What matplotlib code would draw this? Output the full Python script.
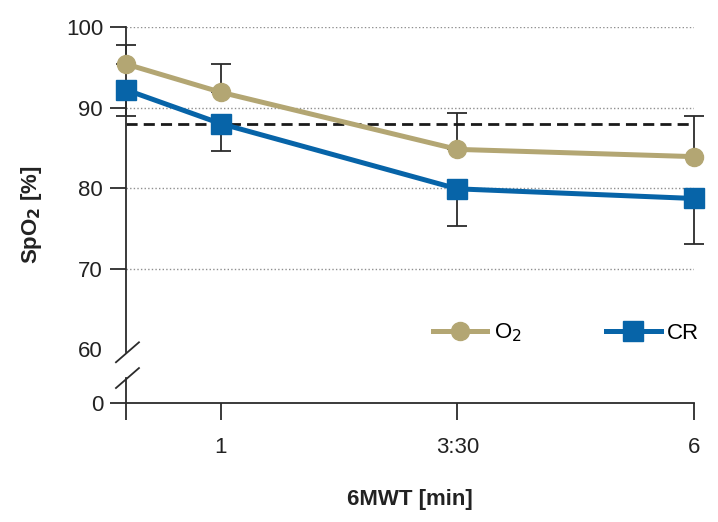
import matplotlib
matplotlib.use('Agg')
import matplotlib.pyplot as plt
from matplotlib.lines import Line2D

plt.rcParams['font.family'] = ['Liberation Sans Narrow', 'Liberation Sans', 'DejaVu Sans']
plt.rcParams['mathtext.fontset'] = 'custom'
plt.rcParams['mathtext.rm'] = 'Liberation Sans Narrow'
plt.rcParams['mathtext.it'] = 'Liberation Sans Narrow:italic'
plt.rcParams['mathtext.bf'] = 'Liberation Sans Narrow:bold'

# ---- data ----
time_min = [0, 1, 3.5, 6]
x_tick_pos = [0, 1, 3.5, 6]
x_tick_labels = ['', '1', '3:30', '6']
o2_values = [95.4, 91.9, 84.8, 83.9]
o2_err_up = [2.4, 3.5, 4.5, 5.1]
cr_values = [92.2, 88.0, 79.9, 78.7]
cr_err_down = [3.3, 3.4, 4.6, 5.7]
threshold = 88
y_tick_values = [0, 60, 70, 80, 90, 100]
y_tick_labels = ['0', '60', '70', '80', '90', '100']
grid_values = [70, 80, 90, 100]
series_labels = ['O$_2$', 'CR']

ZERO_POS = 53.3  # broken axis: where 0 sits


def ypos(v):
    return v if v >= 60 else ZERO_POS + v


TAN = '#b3a673'
BLUE = '#0764a8'
AX_COL = '#2b2b2b'
FS = 16

fig = plt.figure(figsize=(7.18, 5.22), dpi=100)
ax = fig.add_axes([126 / 718, (522 - 403) / 522, (694 - 126) / 718, (403 - 27) / 522])
ax.set_xlim(0, 6)
ax.set_ylim(ZERO_POS, 100)

for g in grid_values:
    ax.axhline(g, color='#8f8f8f', lw=1.0, ls=(0, (1, 1.6)), zorder=1)

ax.axhline(threshold, color='#1a1a1a', lw=2.0, ls=(0, (4, 2.2)), zorder=2.5)

eb1 = ax.errorbar(time_min, o2_values, yerr=[[0] * len(o2_err_up), o2_err_up], fmt='none',
                  ecolor=AX_COL, elinewidth=1.3, capsize=7.2, capthick=1.3, zorder=2)
eb2 = ax.errorbar(time_min, cr_values, yerr=[cr_err_down, [0] * len(cr_err_down)], fmt='none',
                  ecolor=AX_COL, elinewidth=1.3, capsize=7.2, capthick=1.3, zorder=2)
for eb in (eb1, eb2):
    for art in eb.get_children():
        art.set_clip_on(False)

ax.plot(time_min, o2_values, color=TAN, lw=3.6, marker='o', ms=13, zorder=4, clip_on=False)
ax.plot(time_min, cr_values, color=BLUE, lw=3.6, marker='s', ms=15, zorder=3, clip_on=False)

# spines
for s in ['top', 'right']:
    ax.spines[s].set_visible(False)
ax.spines['left'].set_bounds(59.6, 100)
ax.spines['left'].set_color(AX_COL)
ax.spines['bottom'].set_color(AX_COL)
ax.spines['left'].set_linewidth(1.3)
ax.spines['bottom'].set_linewidth(1.3)
ax.plot([0, 0], [ZERO_POS, 56.4], color=AX_COL, lw=1.3, clip_on=False, zorder=5)
# break marks
dx1, dx2, dy = -0.106, 0.137, 1.24
for yc in (59.6, 56.4):
    ax.plot([dx1, dx2], [yc - dy, yc + dy], color=AX_COL, lw=1.3, clip_on=False, zorder=5)

ax.set_yticks([ypos(v) for v in y_tick_values])
ax.set_yticklabels(y_tick_labels)
ax.set_xticks(x_tick_pos)
ax.set_xticklabels(x_tick_labels)
ax.tick_params(axis='y', direction='out', length=11.5, width=1.3, color=AX_COL,
               labelsize=FS, pad=5, labelcolor='#222222')
ax.tick_params(axis='x', direction='out', length=12.5, width=1.3, color=AX_COL,
               labelsize=FS, pad=12, labelcolor='#222222')
ax.yaxis.get_major_ticks()[1].tick1line.set_visible(False)

ax.set_xlabel('6MWT [min]', fontsize=16, fontweight='bold', labelpad=22, color='#222222')
ax.set_ylabel(r'SpO$_\mathbf{2}$ [%]', fontsize=16, fontweight='bold', labelpad=16, color='#222222')

handles = [Line2D([], [], color=TAN, lw=3.6, marker='o', ms=13),
           Line2D([], [], color=BLUE, lw=3.6, marker='s', ms=15)]
ax.legend(handles, series_labels, ncol=2, loc='center', bbox_to_anchor=(0.775, 0.186),
          frameon=False, fontsize=FS, handlelength=2.45, handletextpad=0.3,
          columnspacing=3.8)

fig.savefig('out.png', dpi=100)
